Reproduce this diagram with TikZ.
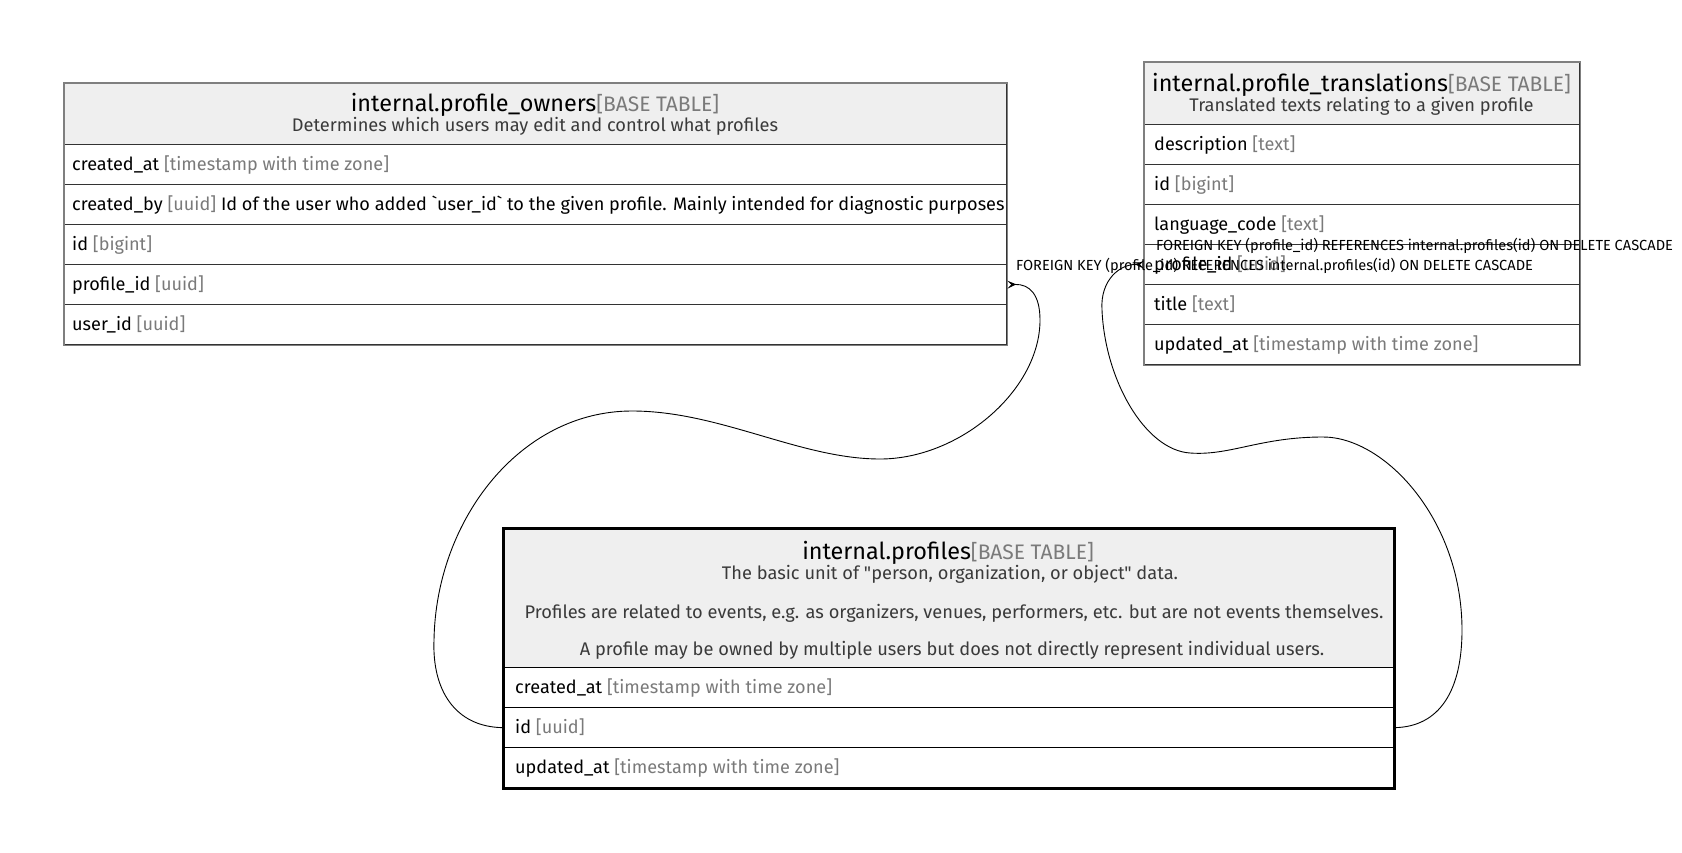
\documentclass[tikz,border=0pt]{standalone}
\usepackage{fontspec}
\setmainfont{Fira Sans}[Ligatures=TeXOff]
\usetikzlibrary{arrows.meta}
\definecolor{hdrbg}{HTML}{EFEFEF}
\definecolor{typegray}{HTML}{7A7A7A}
\definecolor{subgray}{HTML}{3A3A3A}
\definecolor{outergray}{HTML}{7F7F7F}
\definecolor{sepgray}{HTML}{333333}
\newcommand\myrowfont{\fontsize{18.1}{22}\selectfont}
\newcommand\mytitlefont{\fontsize{23.4}{27}\selectfont}
\newcommand\mybasefont{\fontsize{21}{25}\selectfont}
\newcommand\mysubfont{\fontsize{18.25}{22}\selectfont}
\newcommand\mylblfont{\fontsize{14.6}{17}\selectfont}
\newcommand\col[2]{#1 {\color{typegray}[#2]}}
\tikzset{
  cell/.style={draw=sepgray, line width=1.3pt, rectangle, inner sep=0pt, anchor=north west, minimum height=40pt},
  hcell/.style={cell, fill=hdrbg},
  bcell/.style={cell, draw=black},
  bhcell/.style={bcell, fill=hdrbg},
  rtxt/.style={anchor=west, inner sep=0pt, font=\myrowfont, text=black},
  ttl/.style={inner sep=0pt, font=\mytitlefont, text=black},
  sub/.style={inner sep=0pt, font=\mysubfont, text=subgray},
  outer/.style={draw=outergray, line width=1.3pt},
  bouter/.style={draw=black, line width=3pt},
  fk/.style={draw=black, line width=0.9pt, -{Stealth[reversed,length=9pt,width=8pt,inset=4pt]}},
  fklbl/.style={anchor=west, inner sep=0pt, font=\mylblfont, text=black},
}
\begin{document}
\begin{tikzpicture}[x=1pt,y=-1pt]
\useasboundingbox[fill=white] (0,0) rectangle (1682,853);

% ---------- internal.profile_owners ----------
\node[hcell, minimum width=942pt, minimum height=61pt] (po-head) at (64,83) {};
\node[ttl] (po-title) at (535,105) {internal.profile\_owners{\mybasefont\color{typegray}[BASE TABLE]}};
\node[sub] (po-sub) at (535,126.5) {Determines which users may edit and control what profiles};
\node[cell, minimum width=942pt] (po-created-at) at (64,144) {};
\node[cell, minimum width=942pt] (po-created-by) at (64,184) {};
\node[cell, minimum width=942pt] (po-id) at (64,224) {};
\node[cell, minimum width=942pt] (po-profile-id) at (64,264) {};
\node[cell, minimum width=942pt] (po-user-id) at (64,304) {};
\node[rtxt] (po-t1) at ([xshift=8pt]po-created-at.west) {\col{created\_at}{timestamp with time zone}};
\node[rtxt] (po-t2) at ([xshift=8pt]po-created-by.west) {\col{created\_by}{uuid} Id of the user who added \symbol{96}user\_id\symbol{96} to the given profile. Mainly intended for diagnostic purposes};
\node[rtxt] (po-t3) at ([xshift=8pt]po-id.west) {\col{id}{bigint}};
\node[rtxt] (po-t4) at ([xshift=8pt]po-profile-id.west) {\col{profile\_id}{uuid}};
\node[rtxt] (po-t5) at ([xshift=8pt]po-user-id.west) {\col{user\_id}{uuid}};
\draw[outer] (po-head.north west) rectangle (po-user-id.south east);

% ---------- internal.profile_translations ----------
\node[hcell, minimum width=435pt, minimum height=62pt] (pt-head) at (1144,62) {};
\node[ttl] (pt-title) at (1361.5,85) {internal.profile\_translations{\mybasefont\color{typegray}[BASE TABLE]}};
\node[sub] (pt-sub) at (1361.5,106.5) {Translated texts relating to a given profile};
\node[cell, minimum width=435pt] (pt-description) at (1144,124) {};
\node[cell, minimum width=435pt] (pt-id) at (1144,164) {};
\node[cell, minimum width=435pt] (pt-language-code) at (1144,204) {};
\node[cell, minimum width=435pt] (pt-profile-id) at (1144,244) {};
\node[cell, minimum width=435pt] (pt-title-row) at (1144,284) {};
\node[cell, minimum width=435pt] (pt-updated-at) at (1144,324) {};
\node[rtxt] (pt-t1) at ([xshift=10pt]pt-description.west) {\col{description}{text}};
\node[rtxt] (pt-t2) at ([xshift=10pt]pt-id.west) {\col{id}{bigint}};
\node[rtxt] (pt-t3) at ([xshift=10pt]pt-language-code.west) {\col{language\_code}{text}};
\node[rtxt] (pt-t4) at ([xshift=10pt]pt-profile-id.west) {\col{profile\_id}{uuid}};
\node[rtxt] (pt-t5) at ([xshift=10pt]pt-title-row.west) {\col{title}{text}};
\node[rtxt] (pt-t6) at ([xshift=10pt]pt-updated-at.west) {\col{updated\_at}{timestamp with time zone}};
\draw[outer] (pt-head.north west) rectangle (pt-updated-at.south east);

% ---------- internal.profiles ----------
\node[bhcell, minimum width=890pt, minimum height=139pt] (pr-head) at (503,528) {};
\node[ttl] (pr-title) at (948,553) {internal.profiles{\mybasefont\color{typegray}[BASE TABLE]}};
\node[sub] (pr-sub1) at (950,574.5) {The basic unit of "person, organization, or object" data.};
\node[sub] (pr-sub2) at (954,613) {Profiles are related to events, e.g. as organizers, venues, performers, etc. but are not events themselves.};
\node[sub] (pr-sub3) at (952,650) {A profile may be owned by multiple users but does not directly represent individual users.};
\node[bcell, minimum width=890pt] (pr-created-at) at (503,667) {};
\node[bcell, minimum width=890pt] (pr-id) at (503,707) {};
\node[bcell, minimum width=890pt] (pr-updated-at) at (503,747) {};
\node[rtxt] (pr-t1) at ([xshift=12pt]pr-created-at.west) {\col{created\_at}{timestamp with time zone}};
\node[rtxt] (pr-t2) at ([xshift=12pt]pr-id.west) {\col{id}{uuid}};
\node[rtxt] (pr-t3) at ([xshift=12pt]pr-updated-at.west) {\col{updated\_at}{timestamp with time zone}};
\draw[bouter] (pr-head.north west) rectangle (pr-updated-at.south east);

% ---------- foreign keys ----------
\draw[fk] (pr-id.west)
  .. controls (455,727) and (432,690) .. (434,640)
  .. controls (436,520) and (520,411) .. (632,411)
  .. controls (720,411) and (800,459) .. (880,459)
  .. controls (960,459) and (1040,390) .. (1040,320)
  .. controls (1040,295) and (1030,284) .. (po-profile-id.east);
\draw[fk] (pr-id.east)
  .. controls (1440,727) and (1462,690) .. (1462,630)
  .. controls (1462,520) and (1385,437) .. (1323,437)
  .. controls (1260,437) and (1230,456) .. (1190,453)
  .. controls (1145,450) and (1105,380) .. (1102,310)
  .. controls (1100,280) and (1120,264) .. (pt-profile-id.west);
\node[fklbl] (fk-lbl-1) at (1016,266) {FOREIGN KEY (profile\_id) REFERENCES internal.profiles(id) ON DELETE CASCADE};
\node[fklbl] (fk-lbl-2) at (1156,246) {FOREIGN KEY (profile\_id) REFERENCES internal.profiles(id) ON DELETE CASCADE};
\end{tikzpicture}
\end{document}
